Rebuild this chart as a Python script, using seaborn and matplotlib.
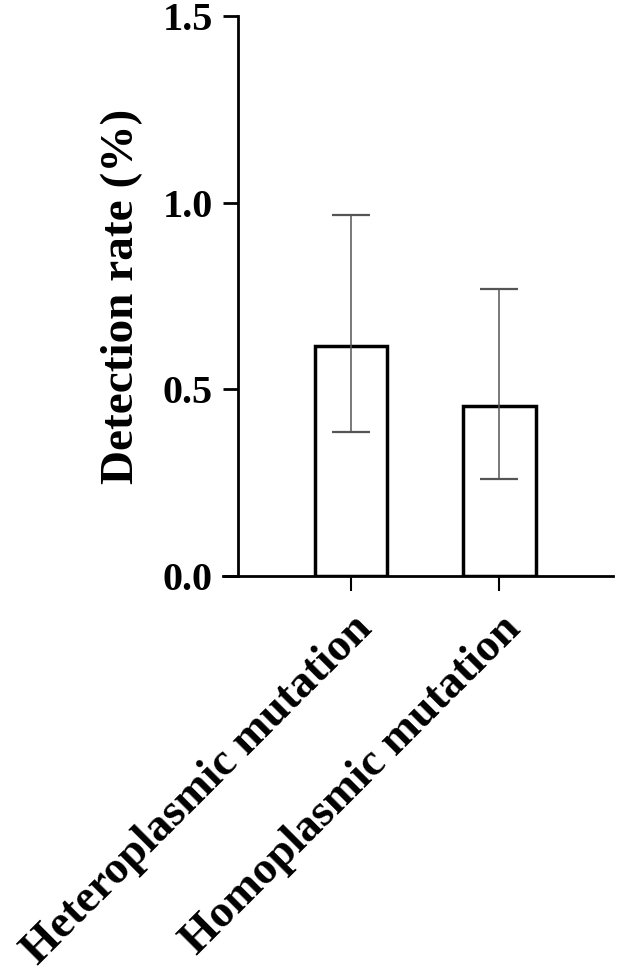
import matplotlib
matplotlib.use("Agg")
import matplotlib.pyplot as plt
import seaborn as sns

# Values
categories = ["Heteroplasmic mutation", "Homoplasmic mutation"]
rates = [0.615, 0.456]
err_low = [0.387, 0.259]
err_high = [0.968, 0.768]
yticks = [0.0, 0.5, 1.0, 1.5]

sns.set_style("ticks")
plt.rcParams["font.family"] = ["Liberation Serif", "DejaVu Serif"]
plt.rcParams["font.weight"] = "bold"
plt.rcParams["text.color"] = "black"
plt.rcParams["axes.labelcolor"] = "black"
plt.rcParams["xtick.color"] = "black"
plt.rcParams["ytick.color"] = "black"

fig = plt.figure(figsize=(6.17, 9.76), dpi=100)
ax = fig.add_axes([223 / 617, 1 - 576 / 976, (612.7 - 223) / 617, (576 - 16) / 976])

sns.barplot(x=categories, y=rates, ax=ax, width=0.49, color="white",
            edgecolor="black", linewidth=2.5, errorbar=None)

# asymmetric error bars
lower = [r - lo for r, lo in zip(rates, err_low)]
upper = [hi - r for r, hi in zip(rates, err_high)]
eb = ax.errorbar(range(len(categories)), rates, yerr=[lower, upper], fmt="none",
                 ecolor="#555555", elinewidth=1.1, capsize=13.5, capthick=1.6, zorder=3)
for cap in eb[1]:
    cap.set_color("#8a8a8a")

ax.set_xlim(-0.863, 1.765)
ax.set_ylim(0, 1.5)
ax.set_yticks(yticks)
ax.set_yticklabels([f"{t:.1f}" for t in yticks])

for s in ["top", "right"]:
    ax.spines[s].set_visible(False)
ax.spines["left"].set_position(("axes", 15 / 390))
for s in ["left", "bottom"]:
    ax.spines[s].set_linewidth(2)
    ax.spines[s].set_color("black")

ax.tick_params(axis="y", length=11, width=2, labelsize=29, pad=7)
ax.tick_params(axis="x", length=11, width=1.5, labelsize=33, pad=12)
plt.setp(ax.get_xticklabels(), rotation=45, ha="right", rotation_mode="anchor",
         fontweight="bold")
plt.setp(ax.get_yticklabels(), fontweight="bold")

ax.set_ylabel("Detection rate (%)", fontsize=34, fontweight="bold", labelpad=14)
ax.set_xlabel("")

fig.savefig("out.png", dpi=100)
